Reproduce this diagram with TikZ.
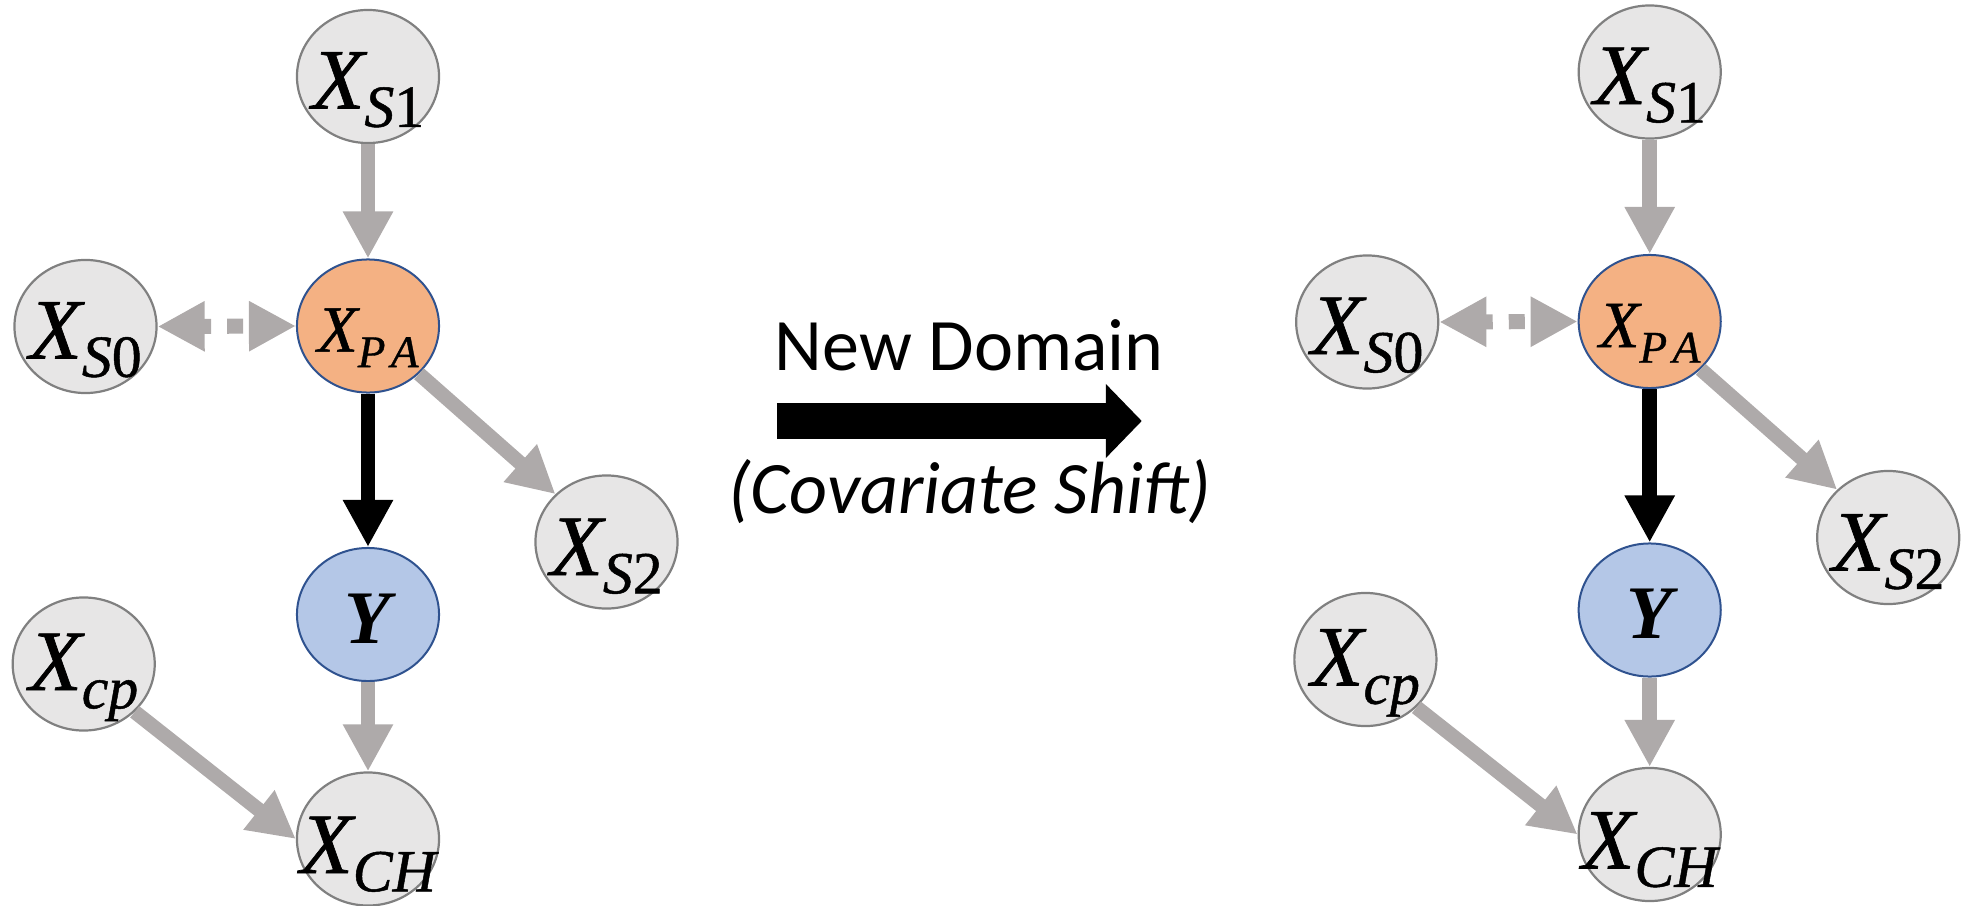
\documentclass[tikz,border=0pt]{standalone}
\usepackage{fontspec}
\usetikzlibrary{shapes.geometric,arrows.meta}
\setmainfont{Carlito}
\newfontfamily\varfont[FakeBold=0.8]{Liberation Serif}
\newfontfamily\boldvarfont{Liberation Serif}
\newfontfamily\capfont{Carlito}

\definecolor{nodegray}{HTML}{E7E6E6}
\definecolor{rimgray}{HTML}{808080}
\definecolor{edgegray}{HTML}{AEAAAA}
\definecolor{paorange}{HTML}{F4B183}
\definecolor{yblue}{HTML}{B4C7E7}
\definecolor{rimblue}{HTML}{2F528F}

% label set on a zero-size box, its baseline lowered by #1 cm below the node centre
\newcommand\inlabel[2]{\makebox[0pt]{\raisebox{-#1cm}[0pt][0pt]{#2}}}
\newcommand\xvar[1]{{\varfont\fontsize{24.5}{26}\selectfont\itshape X\raisebox{-5.2pt}{\fontsize{17}{18}\selectfont #1}}}
\newcommand\xpa{{\varfont\fontsize{18.8}{21}\selectfont\itshape X\raisebox{-4.4pt}{\fontsize{12.9}{14}\selectfont P\kern0.12em A}}}
\newcommand\ybold{{\boldvarfont\fontsize{21.5}{24}\selectfont\bfseries\itshape Y}}

\tikzset{
  varnode/.style={ellipse, minimum width=1.42cm, minimum height=1.33cm, inner sep=0pt},
  gvar/.style={varnode, fill=nodegray, draw=rimgray, line width=0.022cm},
  pavar/.style={varnode, fill=paorange, draw=rimblue, line width=0.02cm},
  yvar/.style={varnode, fill=yblue, draw=rimblue, line width=0.02cm},
  edge/.style={line width=0.145cm, -{Triangle[length=0.47cm,width=0.47cm]}},
  grayedge/.style={edge, edgegray},
  causaledge/.style={edge, black},
  linkedge/.style={edgegray, line width=0.15cm,
    {Triangle[length=0.47cm,width=0.47cm]}-{Triangle[length=0.47cm,width=0.47cm]},
    dash pattern=on 0.16cm off 0.16cm, dash phase=0.067cm},
  shiftarrow/.style={line width=0.36cm, -{Triangle[length=0.36cm,width=0.72cm]}},
}

\begin{document}
\begin{tikzpicture}[x=0.01cm, y=-0.01cm]
\useasboundingbox (0,0) rectangle (1972,906);

% the same causal graph, before and after the domain change
\foreach \side/\dx/\dy in {L/0/0, R/1281.7/-4.5} {
  \begin{scope}[shift={(\dx,\dy)}, name prefix=\side-]
    \node[gvar]  (s1) at (368,76.5)   {\inlabel{0.32}{\xvar{S\upshape 1}}};
    \node[pavar] (pa) at (368,326)    {\inlabel{0.257}{\xpa}};
    \node[gvar]  (s0) at (85.5,326.5) {\inlabel{0.32}{\xvar{S\upshape 0}}};
    \node[gvar]  (s2) at (606.5,542)  {\inlabel{0.33}{\xvar{S\upshape 2}}};
    \node[yvar]  (y)  at (368,614.5)  {\inlabel{0.285}{\ybold}};
    \node[gvar]  (cp) at (83.7,664)   {\inlabel{0.26}{\xvar{cp}}};
    \node[gvar]  (ch) at (368,839)    {\inlabel{0.34}{\xvar{CH}}};

    \draw[grayedge]   (s1.south) -- (pa.north);
    \draw[linkedge]   (s0.east) -- (pa.west);
    \draw[causaledge] (pa.south) -- (y.north);
    \draw[grayedge]   (pa.south east) -- (s2.north west);
    \draw[grayedge]   (y.south) -- (ch.north);
    \draw[grayedge]   (cp.south east) -- (ch.west);
  \end{scope}
}

% domain-shift arrow with its captions
\coordinate (shiftstart) at (776.8,421);
\coordinate (shiftend) at (1141.8,421);
\draw[shiftarrow] (shiftstart) -- (shiftend);
\node[anchor=base, inner sep=0pt] (newdom) at (969.3,370)
  {\capfont\fontsize{21.05}{24}\selectfont New Domain};
\node[anchor=base, inner sep=0pt] (covshift) at (969.6,513)
  {\capfont\fontsize{21.05}{24}\selectfont\itshape (Covariate Shift)};
\end{tikzpicture}
\end{document}
